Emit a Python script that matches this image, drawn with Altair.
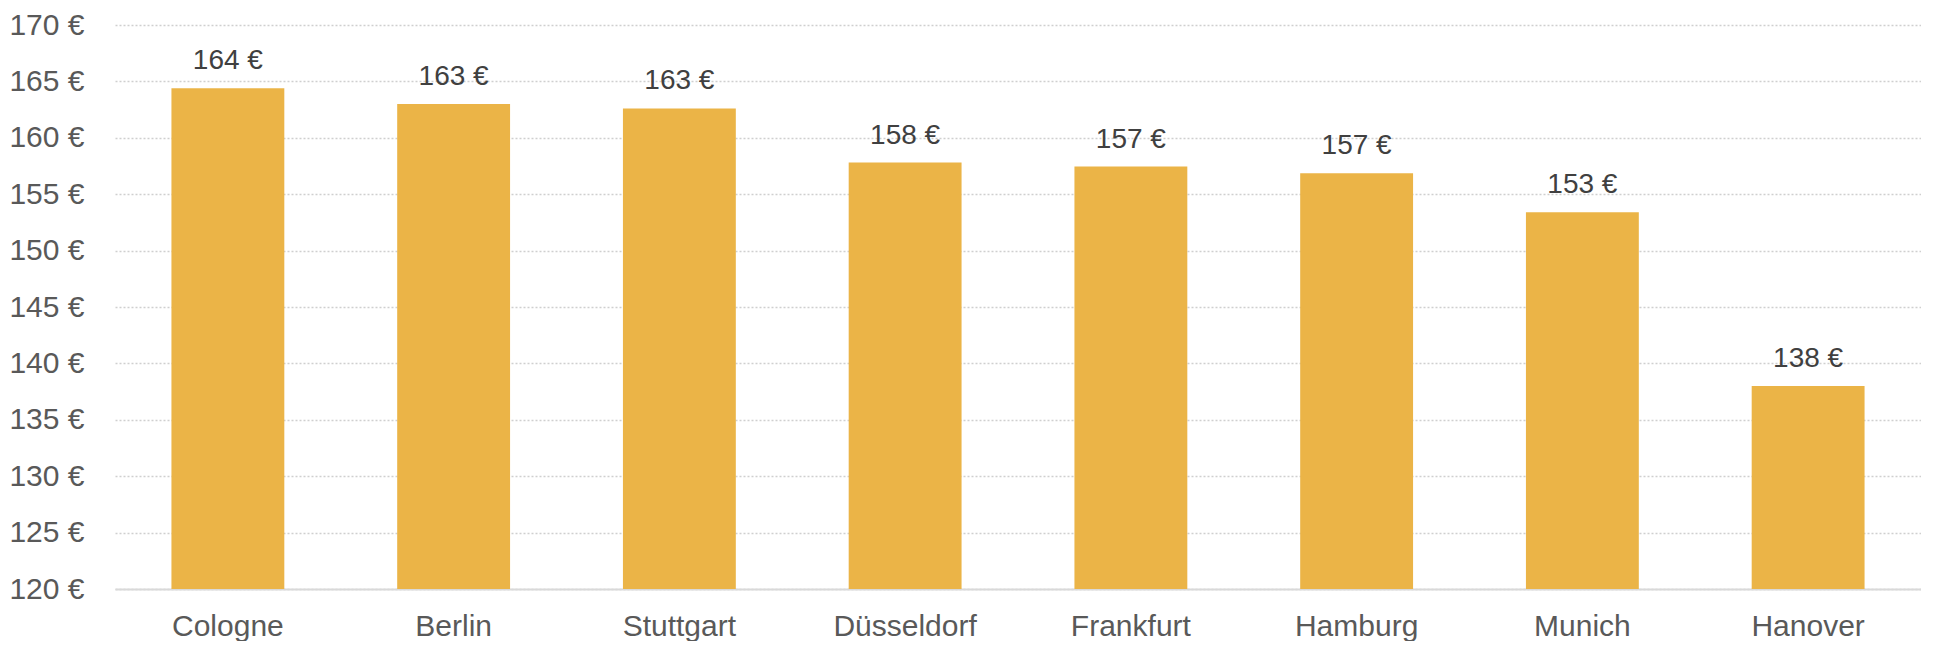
import altair as alt
import pandas as pd

cities = ["Cologne", "Berlin", "Stuttgart", "Düsseldorf", "Frankfurt", "Hamburg", "Munich", "Hanover"]
prices = [164.4, 163.0, 162.6, 157.8, 157.45, 156.86, 153.4, 138.0]
y_ticks = [120, 125, 130, 135, 140, 145, 150, 155, 160, 165, 170]

df = pd.DataFrame({"city": cities, "price": prices})

FONT = "Liberation Sans"
BAR = "#EBB447"

x = alt.X(
    "city:N",
    sort=cities,
    title=None,
    scale=alt.Scale(paddingInner=0.5, paddingOuter=0.25),
    axis=alt.Axis(
        labelAngle=0,
        labelFont=FONT,
        labelFontSize=30,
        labelColor="#595959",
        labelPadding=22,
        ticks=False,
        domain=True,
        domainColor="#d9d9d9",
        domainWidth=2,
        grid=False,
    ),
)

y = alt.Y(
    "price:Q",
    title=None,
    scale=alt.Scale(domain=[120, 170], nice=False, zero=False),
    axis=alt.Axis(
        values=y_ticks,
        labelExpr="datum.value + ' €'",
        labelFont=FONT,
        labelFontSize=30,
        labelColor="#595959",
        labelPadding=31,
        ticks=False,
        domain=False,
        grid=True,
        gridColor="#cfcfcf",
        gridDash=[2, 2],
        gridWidth=1.5,
    ),
)

bars = alt.Chart(df).mark_bar(color=BAR, clip=True).encode(x=x, y=y)

labels = (
    alt.Chart(df)
    .transform_calculate(label="format(datum.price, '.0f') + ' €'")
    .mark_text(
        font=FONT,
        fontSize=28,
        color="#404040",
        baseline="alphabetic",
        dy=-19,
    )
    .encode(x=alt.X("city:N", sort=cities), y=alt.Y("price:Q"), text="label:N")
)

chart = (
    alt.layer(bars, labels)
    .properties(width=1806, height=564, padding={"left": 0, "top": 2, "right": 0, "bottom": 0})
    .configure_view(stroke=None)
)

chart.save("out.html", embed_options={"renderer": "svg", "actions": False})
